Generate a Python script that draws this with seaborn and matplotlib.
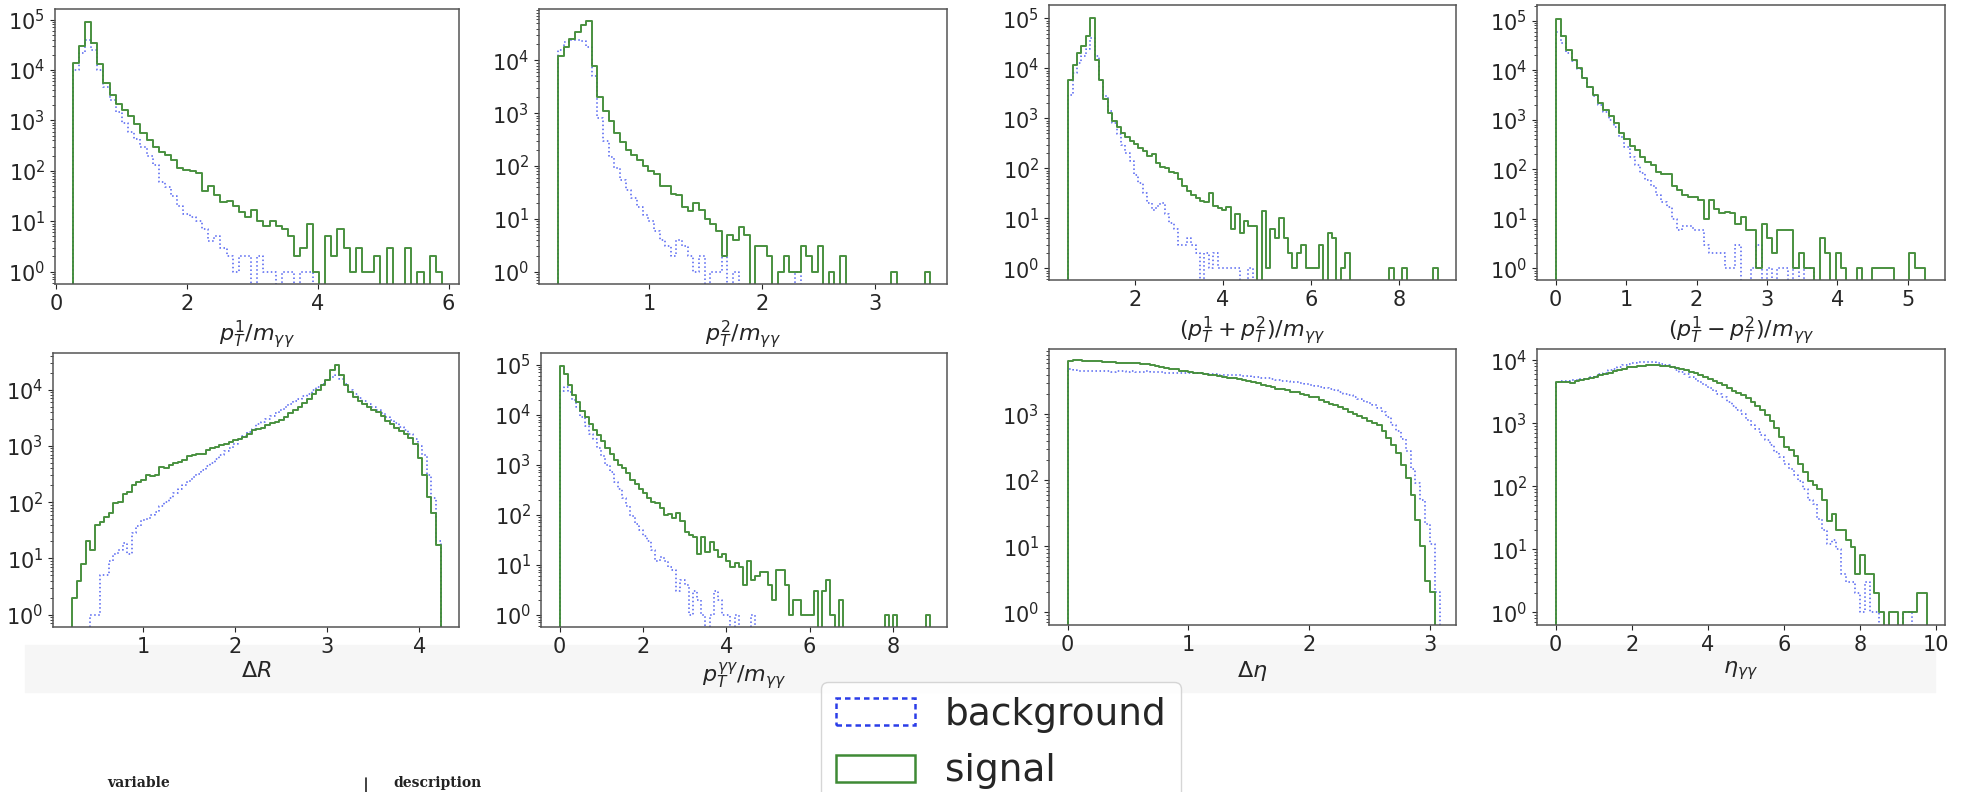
import numpy as np
import pandas as pd
import matplotlib
matplotlib.use("Agg")
import matplotlib.pyplot as plt
from matplotlib.patches import Patch, Rectangle
from matplotlib.lines import Line2D
import seaborn as sns

# ---- data: bin ranges and counts (signal / background) ----
pt1_range = (0.25, 5.9)
pt1_sig = [14000, 30000, 90000, 35000, 13000, 5500, 3200, 2100, 1600, 1200,
           850, 560, 400, 300, 240, 210, 165, 115, 105, 97,
           90, 40, 50, 33, 24, 25, 20, 15, 12, 17,
           10, 8, 10, 8, 7, 5, 2, 3, 9, 1,
           0, 5, 2, 7, 3, 1, 3, 1, 1, 2,
           0, 3, 0, 0, 3, 0, 1, 0, 2, 1]
pt1_bkg = [10000, 22000, 40000, 25000, 10000, 4500, 2500, 1500, 900, 600,
           420, 300, 200, 130, 60, 48, 32, 20, 14, 12,
           10, 7, 4, 5, 3, 2, 1, 2, 2, 0,
           2, 1, 1, 0, 1, 1, 0, 1, 1]

pt2_range = (0.19, 3.49)
pt2_sig = [12000, 18000, 25000, 35000, 47000, 55000, 8000, 2000, 1100, 700,
           420, 280, 200, 160, 130, 100, 80, 70, 41, 41,
           30, 28, 17, 14, 20, 15, 10, 8, 6, 2,
           5, 4, 7, 5, 0, 3, 3, 2, 0, 1,
           2, 1, 1, 3, 2, 1, 3, 0, 1, 0,
           2, 0, 0, 0, 0, 0, 0, 0, 0, 1,
           0, 0, 0, 0, 0, 1]
pt2_bkg = [16000, 22000, 24000, 24000, 23000, 18000, 5000, 800, 300, 150,
           90, 55, 35, 25, 17, 12, 9, 6, 4, 3,
           2, 4, 3, 2, 1, 2, 0, 1, 1, 2,
           0, 1, 0, 0, 0, 0, 0, 0, 0, 0,
           0, 0, 1]

psum_range = (0.48, 8.88)
psum_sig = [6000, 12000, 20000, 28000, 45000, 100000, 15000, 6000, 2500, 1300,
            900, 680, 520, 430, 360, 310, 260, 220, 180, 190,
            130, 105, 100, 85, 80, 60, 45, 36, 30, 26,
            22, 21, 32, 18, 16, 15, 17, 6, 12, 5,
            9, 7, 7, 0, 14, 1, 6, 4, 10, 4,
            2, 1, 2, 3, 1, 1, 1, 3, 0, 5,
            4, 0, 1, 2, 0, 0, 0, 0, 0, 0,
            0, 0, 0, 1, 0, 0, 1, 0, 0, 0,
            0, 0, 0, 1]
psum_bkg = [3000, 8000, 13000, 18000, 25000, 40000, 18000, 6000, 2800, 1400,
            800, 480, 300, 200, 140, 75, 50, 32, 20, 15,
            18, 20, 12, 8, 6, 3, 3, 4, 3, 2,
            0, 2, 1, 2, 1, 1, 1, 1, 1, 0,
            0, 1]

pdiff_range = (0.0, 5.25)
pdiff_sig = [110000, 50000, 26000, 16000, 11000, 7000, 4500, 3200, 2200, 1600,
             1200, 850, 550, 400, 300, 240, 180, 140, 120, 90,
             80, 80, 45, 38, 30, 28, 27, 24, 10, 24,
             16, 13, 14, 13, 8, 11, 6, 6, 1, 8,
             4, 2, 6, 6, 6, 1, 2, 1, 1, 0,
             4, 2, 0, 2, 1, 0, 0, 1, 0, 0,
             1, 1, 1, 1, 0, 0, 0, 2, 1, 1]
pdiff_bkg = [60000, 35000, 22000, 15000, 10500, 7000, 4500, 3000, 2000, 1400,
             1000, 700, 450, 280, 180, 120, 85, 60, 45, 30,
             22, 17, 10, 6, 7, 7, 6, 6, 3, 2,
             2, 2, 1, 1, 3, 0, 0, 1, 3, 0,
             1, 0, 1, 1, 0, 1, 0, 1, 1]

dr_range = (0.23, 4.23)
dr_sig = [2, 4, 8, 20, 14, 40, 45, 55, 63, 95,
          100, 140, 150, 200, 230, 250, 300, 290, 300, 420,
          400, 450, 490, 520, 560, 650, 700, 730, 730, 850,
          920, 960, 1050, 1100, 1150, 1270, 1350, 1450, 1600, 1900,
          2000, 2100, 2300, 2500, 2700, 2900, 3300, 3800, 4300, 4900,
          5800, 6900, 8200, 9700, 12000, 14500, 22000, 27000, 18000, 12000,
          9000, 7500, 6300, 5600, 5000, 4400, 4000, 3400, 2800, 2400,
          2100, 1800, 1600, 1400, 1100, 600, 300, 125, 63, 17]
dr_bkg = [0, 0, 0, 0, 1, 1, 5, 5, 9, 12,
          14, 19, 12, 28, 37, 48, 50, 58, 68, 85,
          100, 120, 145, 170, 200, 240, 280, 320, 370, 430,
          500, 580, 680, 800, 920, 1100, 1300, 1500, 1750, 2000,
          2400, 2700, 3000, 3400, 3900, 4300, 5000, 5500, 6200, 6800,
          7600, 8500, 9700, 11000, 12500, 14500, 16500, 18000, 15500, 12500,
          10000, 8500, 7000, 6300, 5500, 5000, 4300, 3800, 3300, 2900,
          2500, 2200, 1900, 1650, 1350, 1000, 700, 300, 120, 20]

ptgg_range = (0.0, 8.9)
ptgg_sig = [95000, 65000, 40000, 25000, 18000, 12000, 9000, 6600, 4900, 3900,
            3000, 2200, 1650, 1250, 980, 840, 670, 500, 420, 320,
            270, 220, 180, 170, 135, 100, 105, 85, 107, 75,
            46, 40, 36, 16, 36, 18, 28, 20, 14, 16,
            12, 9, 11, 9, 4, 12, 5, 6, 7, 7,
            4, 2, 8, 8, 4, 1, 2, 2, 1, 1,
            1, 3, 0, 3, 5, 1, 0, 2, 0, 0,
            0, 0, 0, 0, 0, 0, 0, 0, 1, 0,
            1, 0, 0, 0, 0, 0, 0, 0, 1]
ptgg_bkg = [30000, 35000, 28000, 20000, 14000, 9000, 6000, 4200, 3200, 2200,
            1500, 1000, 700, 450, 320, 220, 150, 95, 65, 50,
            38, 30, 20, 12, 14, 12, 9, 8, 3, 5,
            4, 1, 3, 2, 1, 0, 1, 3, 2, 1,
            1, 0, 1, 0, 0, 0, 1]

deta_range = (0.0, 3.08)
deta_sig = [6500, 6600, 6600, 6500, 6500, 6400, 6400, 6300, 6300, 6200,
            6100, 6000, 6000, 5900, 5900, 5800, 5700, 5500, 5400, 5200,
            5100, 4900, 4800, 4600, 4500, 4400, 4300, 4200, 4100, 4000,
            3900, 3800, 3700, 3600, 3500, 3400, 3300, 3200, 3050, 2950,
            2800, 2700, 2600, 2450, 2400, 2300, 2200, 2150, 2050, 1950,
            1850, 1800, 1650, 1550, 1450, 1380, 1300, 1200, 1100, 1020,
            950, 880, 800, 740, 680, 560, 440, 340, 260, 170,
            110, 60, 25, 10, 3, 2, 0]
deta_bkg = [4800, 4700, 4600, 4600, 4600, 4500, 4500, 4500, 4500, 4400,
            4500, 4500, 4400, 4500, 4400, 4400, 4500, 4400, 4400, 4400,
            4300, 4300, 4300, 4300, 4300, 4200, 4200, 4200, 4100, 4100,
            4100, 4000, 4000, 4000, 3900, 3900, 3800, 3800, 3700, 3700,
            3600, 3500, 3400, 3350, 3250, 3200, 3100, 3050, 2950, 2900,
            2800, 2700, 2600, 2500, 2400, 2300, 2200, 2050, 1950, 1800,
            1700, 1600, 1500, 1380, 1250, 1100, 900, 700, 550, 420,
            280, 150, 90, 50, 22, 11, 2]

etagg_range = (0.0, 9.75)
etagg_sig = [4600, 4600, 4500, 4400, 4700, 4900, 5000, 5200, 5500, 5800,
             6100, 6400, 6800, 7100, 7400, 7700, 7900, 8100, 8200, 8300,
             8400, 8300, 8200, 8000, 7800, 7500, 7200, 6900, 6500, 6200,
             5800, 5500, 5100, 4700, 4400, 4000, 3600, 3300, 3000, 2800,
             2500, 2200, 1900, 1600, 1350, 1100, 850, 600, 420, 380,
             300, 230, 170, 120, 105, 90, 60, 28, 37, 20,
             20, 14, 11, 4, 8, 4, 4, 2, 1, 0,
             1, 1, 0, 1, 1, 1, 2, 2]
etagg_bkg = [4600, 4700, 4700, 4800, 4900, 5000, 5100, 5400, 5700, 6000,
             6400, 6900, 7400, 7900, 8300, 8700, 9000, 9300, 9400, 9400,
             9300, 9100, 8800, 8300, 7700, 7100, 6500, 6000, 5500, 5000,
             4600, 4100, 3700, 3300, 2900, 2600, 2200, 1900, 1600, 1400,
             1150, 950, 800, 650, 550, 450, 350, 290, 230, 190,
             150, 120, 90, 60, 52, 30, 20, 12, 14, 10,
             4, 3, 3, 2, 1, 3, 1, 1, 0, 0,
             0, 0, 0, 1, 1]

labels = [r"$p_T^1/m_{\gamma\gamma}$", r"$p_T^2/m_{\gamma\gamma}$",
          r"$(p_T^1+p_T^2)/m_{\gamma\gamma}$", r"$(p_T^1-p_T^2)/m_{\gamma\gamma}$",
          r"$\Delta R$", r"$p_T^{\gamma\gamma}/m_{\gamma\gamma}$",
          r"$\Delta\eta$", r"$\eta_{\gamma\gamma}$"]
ranges = [pt1_range, pt2_range, psum_range, pdiff_range,
          dr_range, ptgg_range, deta_range, etagg_range]
signals = [pt1_sig, pt2_sig, psum_sig, pdiff_sig, dr_sig, ptgg_sig, deta_sig, etagg_sig]
backgrounds = [pt1_bkg, pt2_bkg, psum_bkg, pdiff_bkg, dr_bkg, ptgg_bkg, deta_bkg, etagg_bkg]

# ---- layout (pixel boxes: left, top, right, bottom) and axis limits ----
W, H = 1963, 792
boxes = [(55, 9, 459, 284), (539, 9, 947, 284), (1049, 5, 1456, 280), (1537, 5, 1945, 280),
         (53, 353, 459, 627), (541, 353, 947, 627), (1049, 349, 1456, 625), (1537, 349, 1945, 625)]
xlims = [(-0.02, 6.16), (0.022, 3.637), (0.045, 9.30), (-0.266, 5.53),
         (0.025, 4.43), (-0.448, 9.30), (-0.155, 3.216), (-0.49, 10.23)]
ylims = [(-0.245, 5.21), (-0.234, 4.973), (-0.233, 5.27), (-0.236, 5.316),
         (-0.219, 4.65), (-0.246, 5.233), (-0.193, 3.99), (-0.201, 4.18)]

SIG_COLOR = "#3f8a35"
BKG_COLOR = "#3347ee"

sns.set_style("ticks")
plt.rcParams["font.family"] = ["DejaVu Sans"]
plt.rcParams["mathtext.fontset"] = "dejavusans"

fig = plt.figure(figsize=(W / 100, H / 100), dpi=100)

# very light band behind the lower x labels (screenshot artefact)
fig.patches.append(Rectangle((25 / W, 1 - 692 / H), 1910 / W, 47 / H,
                             transform=fig.transFigure, color="#f6f6f6", zorder=-5))


def draw_hist(ax, rng, counts, nbins, color, ls, lw, alpha):
    lo, hi = rng
    edges = np.linspace(lo, hi, nbins + 1)
    w = edges[1] - edges[0]
    centers = (edges[:-1] + edges[1:]) / 2
    # one empty bin on each side so the outline drops to the baseline
    bins = [lo - w] + list(edges) + [hi + w]
    df = pd.DataFrame({"x": centers[:len(counts)], "w": counts})
    sns.histplot(data=df, x="x", weights="w", bins=bins,
                 element="step", fill=False, color=color, linestyle=ls,
                 linewidth=lw, alpha=alpha, ax=ax)


for i in range(8):
    l, t, r, b = boxes[i]
    ax = fig.add_axes([l / W, 1 - b / H, (r - l) / W, (b - t) / H])
    ax.patch.set_alpha(0)
    n = len(signals[i])
    draw_hist(ax, ranges[i], backgrounds[i], n, BKG_COLOR, ":", 1.1, 0.85)
    draw_hist(ax, ranges[i], signals[i], n, SIG_COLOR, "-", 1.4, 0.95)
    ax.set_yscale("log")
    ax.set_xlim(*xlims[i])
    ax.set_ylim(10 ** ylims[i][0], 10 ** ylims[i][1])
    ax.set_xlabel(labels[i], fontsize=16, labelpad=3)
    ax.set_ylabel("")
    ax.tick_params(labelsize=15)
    for s in ax.spines.values():
        s.set_color("#555555")
        s.set_linewidth(1.1)

handles = [Patch(facecolor="none", edgecolor="#2b3de8", linestyle=(0, (2.2, 1.6)), linewidth=1.8),
           Patch(facecolor="none", edgecolor=SIG_COLOR, linewidth=1.8)]
fig.legend(handles, ["background", "signal"], loc="upper center",
           bbox_to_anchor=(1001 / W, 1 - 663 / H), fontsize=27,
           handlelength=2.1, handleheight=0.75, frameon=True, fancybox=True,
           edgecolor="#cccccc", borderpad=0.4, labelspacing=0.55)

# table header peeking in at the bottom of the screenshot
fig.text(107 / W, 1 - 776 / H, "variable", va="top", ha="left", family="serif",
         fontweight="bold", fontsize=10, color="#222222")
fig.text(393 / W, 1 - 776 / H, "description", va="top", ha="left", family="serif",
         fontweight="bold", fontsize=10, color="#222222")
fig.add_artist(Line2D([366 / W, 366 / W], [0, 1 - 778 / H], color="#222222", lw=1.2))

fig.savefig("out.png", dpi=100, facecolor="white")
